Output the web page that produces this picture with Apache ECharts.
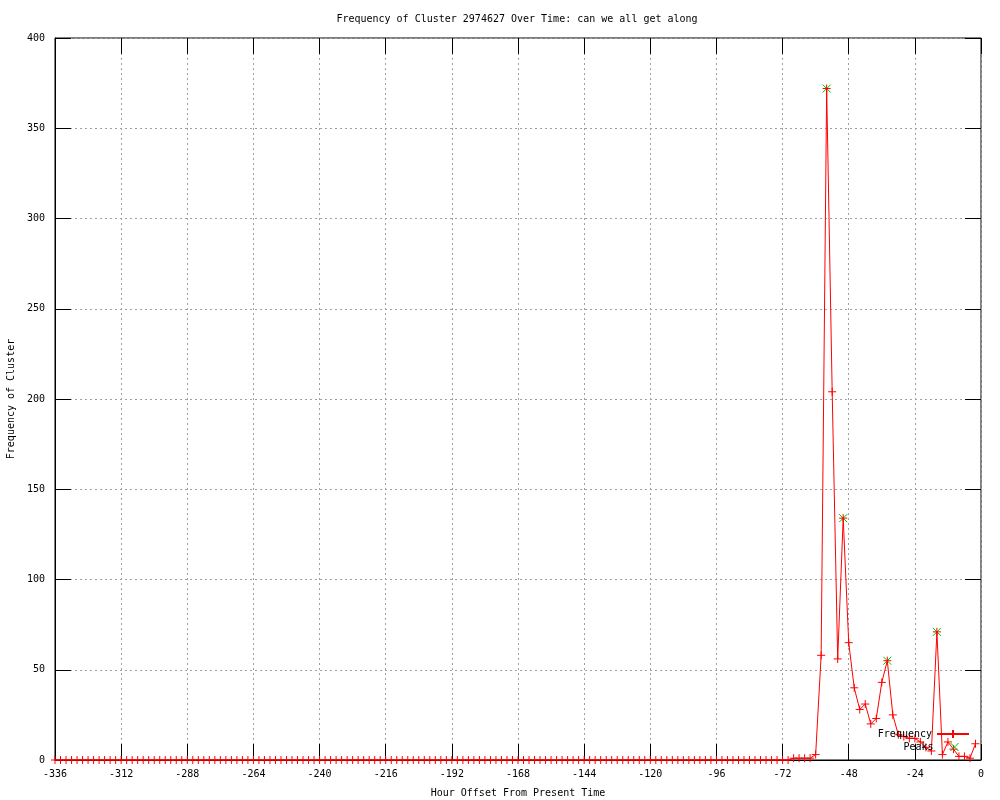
<!DOCTYPE html>
<html>
<head>
<meta charset="utf-8">
<script src="https://cdn.jsdelivr.net/npm/echarts@6/dist/echarts.min.js"></script>
<style>html,body{margin:0;padding:0;background:#fff}#c{width:1000px;height:800px}</style>
</head>
<body>
<div id="c"></div>
<script>
// Hour offsets of each sample (every 2 hours)
var hours = [
  -336,-334,-332,-330,-328,-326,-324,-322,-320,-318,-316,-314,
  -312,-310,-308,-306,-304,-302,-300,-298,-296,-294,-292,-290,
  -288,-286,-284,-282,-280,-278,-276,-274,-272,-270,-268,-266,
  -264,-262,-260,-258,-256,-254,-252,-250,-248,-246,-244,-242,
  -240,-238,-236,-234,-232,-230,-228,-226,-224,-222,-220,-218,
  -216,-214,-212,-210,-208,-206,-204,-202,-200,-198,-196,-194,
  -192,-190,-188,-186,-184,-182,-180,-178,-176,-174,-172,-170,
  -168,-166,-164,-162,-160,-158,-156,-154,-152,-150,-148,-146,
  -144,-142,-140,-138,-136,-134,-132,-130,-128,-126,-124,-122,
  -120,-118,-116,-114,-112,-110,-108,-106,-104,-102,-100,-98,
  -96,-94,-92,-90,-88,-86,-84,-82,-80,-78,-76,-74,
  -72,-70,-68,-66,-64,-62,-60,-58,-56,-54,-52,-50,
  -48,-46,-44,-42,-40,-38,-36,-34,-32,-30,-28,-26,
  -24,-22,-20,-18,-16,-14,-12,-10,-8,-6,-4,-2
];
// Frequency of cluster at each offset
var frequency = [
  0,0,0,0,0,0,0,0,0,0,0,0,
  0,0,0,0,0,0,0,0,0,0,0,0,
  0,0,0,0,0,0,0,0,0,0,0,0,
  0,0,0,0,0,0,0,0,0,0,0,0,
  0,0,0,0,0,0,0,0,0,0,0,0,
  0,0,0,0,0,0,0,0,0,0,0,0,
  0,0,0,0,0,0,0,0,0,0,0,0,
  0,0,0,0,0,0,0,0,0,0,0,0,
  0,0,0,0,0,0,0,0,0,0,0,0,
  0,0,0,0,0,0,0,0,0,0,0,0,
  0,0,0,0,0,0,0,0,0,0,0,0,
  0,0,1,1,1,1,3,58,372,204,56,134,
  65,40,28,31,20,23,43,55,25,14,13,12,
  12,10,7,5,71,3,10,6,2,2,1,9
];
// Detected peaks
var peakHours = [-56, -50, -34, -16];
var peakValues = [372, 134, 55, 71];

var xTicks = {min: -336, max: 0, interval: 24};
var yTicks = {min: 0, max: 400, interval: 50};

var FONT = 'DejaVu Sans Mono';
var freqData = hours.map(function (h, i) { return [h, frequency[i]]; });
var peakData = peakHours.map(function (h, i) { return [h, peakValues[i]]; });

var plus = 'path://M0,5L10,5M5,0L5,10';
var cross = 'path://M0,0L10,10M10,0L0,10';

var chart = echarts.init(document.getElementById('c'), null, {renderer: 'canvas'});
var grid = {left: 55, right: 19, top: 38, bottom: 40, containLabel: false, outerBoundsMode: 'none',
  show: true, borderColor: '#000', borderWidth: 1, backgroundColor: 'transparent'};
var tickStyle = {show: true, inside: true, length: 16, lineStyle: {color: '#000', width: 1}};
var label = {color: '#000', fontFamily: FONT, fontSize: 10};
var gridLine = {show: true, lineStyle: {color: '#a0a0a0', type: [2, 3], width: 1}};
chart.setOption({
  animation: false,
  backgroundColor: '#fff',
  title: {
    text: 'Frequency of Cluster 2974627 Over Time: can we all get along',
    left: 512, top: 9, textAlign: 'center',
    textStyle: {fontFamily: FONT, fontSize: 10, fontWeight: 'normal', color: '#000'}
  },
  grid: grid,
  legend: [
    {data: ['Frequency'], right: 25, top: 724, orient: 'vertical', align: 'right', itemWidth: 32, itemHeight: 10,
     textStyle: {fontFamily: FONT, fontSize: 10, color: '#000'}, selectedMode: false},
    {data: [{name: 'Peaks', icon: cross}], right: 36, top: 737, orient: 'vertical', align: 'right', itemWidth: 32, itemHeight: 8,
     textStyle: {fontFamily: FONT, fontSize: 10, color: '#000'}, selectedMode: false,
     itemStyle: {color: 'transparent', borderColor: '#00c000', borderWidth: 1}}
  ],
  xAxis: [
    {type: 'value', position: 'bottom', min: xTicks.min, max: xTicks.max, interval: xTicks.interval,
     name: 'Hour Offset From Present Time', nameLocation: 'middle', nameGap: 28,
     nameTextStyle: {fontFamily: FONT, fontSize: 10, color: '#000'},
     axisLine: {show: true, onZero: false, lineStyle: {color: '#000', width: 1}},
     axisTick: tickStyle,
     axisLabel: Object.assign({margin: 9}, label),
     splitLine: gridLine},
    {type: 'value', position: 'top', min: xTicks.min, max: xTicks.max, interval: xTicks.interval,
     axisLine: {show: false, onZero: false}, axisTick: tickStyle, axisLabel: {show: false}, splitLine: {show: false}}
  ],
  yAxis: [
    {type: 'value', position: 'left', min: yTicks.min, max: yTicks.max, interval: yTicks.interval,
     name: 'Frequency of Cluster', nameLocation: 'middle', nameGap: 33, nameRotate: 90,
     nameTextStyle: {fontFamily: FONT, fontSize: 10, color: '#000'},
     axisLine: {show: true, onZero: false, lineStyle: {color: '#000', width: 1}},
     axisTick: tickStyle,
     axisLabel: Object.assign({margin: 10}, label),
     splitLine: gridLine},
    {type: 'value', position: 'right', min: yTicks.min, max: yTicks.max, interval: yTicks.interval,
     axisLine: {show: false, onZero: false}, axisTick: tickStyle, axisLabel: {show: false}, splitLine: {show: false}}
  ],
  series: [
    {name: 'Peaks', type: 'scatter', data: peakData, symbol: cross, symbolSize: 8, z: 2,
     itemStyle: {color: 'transparent', borderColor: '#00c000', borderWidth: 1, opacity: 1}},
    {name: 'Frequency', type: 'line', data: freqData, symbol: plus, symbolSize: 8, showSymbol: true,
     z: 3, color: '#ff0000',
     lineStyle: {color: '#ff0000', width: 1},
     itemStyle: {color: 'transparent', borderColor: '#ff0000', borderWidth: 1}}
  ]
});
</script>
</body>
</html>
